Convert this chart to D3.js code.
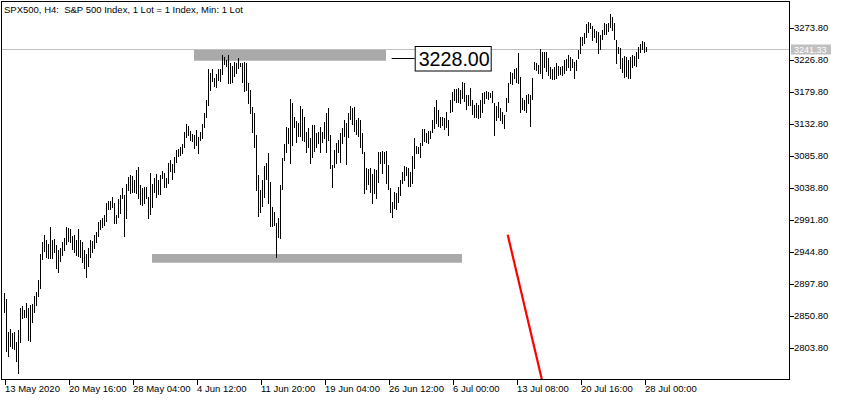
<!DOCTYPE html>
<html><head><meta charset="utf-8">
<script src="https://cdn.jsdelivr.net/npm/d3@7"></script>
<style>
html,body{margin:0;padding:0;background:#fff;}
svg{display:block;}
text{font-family:"Liberation Sans",Arial,sans-serif;}
</style></head><body>
<svg id="chart" width="842" height="400"></svg>
<script>
// ---- data (H4 bars, high / low) ----
const highs = [
2884,2875,2827,2831,2825,2827,2812,2830,2862,2865,
2859,2869,2862,2866,2868,2879,2885,2903,2941,2959,
2969,2962,2956,2981,2962,2963,2954,2947,2950,2959,
2965,2981,2979,2978,2968,2969,2962,2978,2962,2959,
2947,2941,2950,2962,2960,2969,2973,2988,2991,2994,
2998,3016,3019,3019,3025,3016,2998,3022,3028,3038,
3028,3044,3054,3057,3056,3050,3065,3069,3043,3038,
3040,3040,3025,3060,3044,3053,3059,3050,3057,3063,
3060,3053,3075,3079,3073,3084,3094,3095,3098,3103,
3120,3132,3129,3122,3117,3116,3123,3113,3120,3132,
3148,3167,3213,3207,3213,3200,3206,3213,3213,3233,
3231,3226,3233,3222,3217,3223,3222,3229,3222,3222,
3223,3222,3192,3182,3157,3148,3116,3057,3035,3050,
3070,3075,3090,3047,3010,3003,2987,2994,3043,3082,
3103,3128,3126,3169,3163,3142,3137,3134,3159,3154,
3142,3120,3126,3112,3131,3131,3119,3120,3128,3120,
3135,3148,3156,3116,3072,3094,3104,3109,3119,3126,
3138,3134,3148,3159,3156,3157,3138,3141,3138,3119,
3091,3067,3066,3067,3059,3066,3065,3091,3091,3092,
3091,3092,3072,3038,3018,3032,3031,3040,3050,3062,
3070,3069,3067,3062,3085,3112,3100,3098,3104,3125,
3125,3119,3122,3122,3138,3157,3167,3153,3142,3142,
3141,3150,3138,3167,3179,3184,3184,3185,3182,3194,
3192,3175,3175,3185,3167,3160,3163,3160,3167,3178,
3179,3181,3179,3178,3181,3163,3159,3164,3156,3150,
3145,3170,3192,3208,3207,3213,3214,3236,3201,3170,
3167,3175,3176,3175,3200,3223,3222,3219,3242,3238,
3238,3238,3229,3216,3213,3216,3222,3217,3216,3217,
3226,3228,3233,3231,3228,3223,3226,3241,3260,3260,
3266,3279,3282,3280,3276,3272,3269,3267,3263,3270,
3280,3279,3280,3294,3289,3280,3255,3245,3244,3229,
3232,3231,3226,3231,3233,3232,3238,3245,3250,3254,
3253,3245];
const lows = [
2856,2799,2791,2806,2803,2802,2784,2766,2812,2847,
2849,2849,2815,2813,2841,2856,2866,2879,2891,2934,
2946,2937,2935,2935,2935,2944,2921,2915,2931,2940,
2947,2956,2960,2959,2948,2944,2940,2938,2937,2929,
2921,2907,2924,2937,2944,2950,2959,2968,2978,2981,
2984,2990,3007,3007,3010,2987,2987,2996,3001,3023,
2968,2994,3035,3031,3032,3032,3031,3023,3015,3013,
3016,3023,2994,3000,3010,3032,3025,3029,3029,3053,
3040,3040,3045,3063,3051,3062,3076,3085,3087,3090,
3098,3113,3116,3109,3107,3097,3101,3090,3109,3112,
3128,3142,3160,3182,3195,3188,3186,3197,3195,3206,
3220,3217,3192,3192,3194,3203,3207,3214,3217,3194,
3181,3182,3163,3148,3120,3098,3035,2997,3003,3012,
3025,3051,3016,2982,2982,2984,2937,2966,2965,3037,
3079,3091,3104,3075,3101,3128,3106,3114,3114,3109,
3107,3091,3098,3075,3084,3092,3098,3104,3091,3105,
3112,3091,3109,3067,3040,3069,3075,3091,3076,3104,
3114,3073,3113,3139,3132,3122,3117,3114,3098,3090,
3031,3037,3044,3032,3016,3031,3023,3047,3075,3060,
3075,3045,3037,3003,2996,3009,3007,3018,3028,3045,
3050,3057,3041,3041,3045,3067,3090,3090,3084,3101,
3107,3106,3104,3112,3120,3126,3134,3129,3128,3131,
3125,3128,3116,3150,3151,3167,3164,3164,3163,3170,
3166,3154,3160,3160,3147,3142,3142,3141,3142,3150,
3163,3170,3169,3172,3164,3116,3138,3142,3138,3134,
3126,3151,3164,3192,3191,3200,3194,3192,3150,3154,
3153,3150,3163,3129,3169,3213,3211,3207,3207,3200,
3216,3210,3204,3200,3198,3198,3200,3204,3206,3204,
3207,3211,3216,3211,3216,3200,3211,3229,3236,3248,
3251,3260,3267,3273,3255,3260,3253,3236,3242,3257,
3264,3264,3269,3275,3270,3257,3222,3236,3214,3208,
3201,3203,3200,3200,3216,3219,3217,3229,3238,3242,
3238,3240];
const timeTickIndex = [0,32,64,96,128,160,192,224,256,288,320];
const timeTickLabels = ["13 May 2020","20 May 16:00","28 May 04:00","4 Jun 12:00","11 Jun 20:00",
  "19 Jun 04:00","26 Jun 12:00","6 Jul 00:00","13 Jul 08:00","20 Jul 16:00","28 Jul 00:00"];
const priceTicks = [3273.8,3226.8,3179.8,3132.8,3085.8,3038.8,2991.8,2944.8,2897.8,2850.8,2803.8];
const currentPrice = 3241.33;
const labelPrice = 3228.00;
const labelText = "3228.00";
const titleText = "SPX500, H4:  S&P 500 Index, 1 Lot = 1 Index, Min: 1 Lot";
// zones: bar index span and price span
const zoneUpper = [94.75, 190.75, 3240.8, 3225.0];
const zoneLower = [73.75, 228.75, 2941.1, 2928.3];
// trend line: bar index / price of both ends
const trendLine = [251.6, 2969.4, 271.1, 2726.7];
const labelAnchorIndex = 193.6;

// ---- drawing ----
const svg = d3.select("#chart");
const W = 842, H = 400;
const plotL = 1.5, plotR = 789.5, plotT = 1.5, plotB = 379.5;
const N = highs.length;

const x = d3.scaleLinear().domain([0, N - 1]).range([4.5, 4.5 + 2 * (N - 1)]);
const y = d3.scaleLinear().domain([2803.8, 3273.8]).range([347.5, 27.5]);

svg.append("rect").attr("width", W).attr("height", H).attr("fill", "#fff");

svg.append("defs").append("clipPath").attr("id", "plotclip")
  .append("rect").attr("x", plotL).attr("y", plotT)
  .attr("width", plotR - plotL).attr("height", plotB - plotT);

const plot = svg.append("g").attr("clip-path", "url(#plotclip)");

// current price line
const cy = Math.round(y(currentPrice)) - 0.5;
plot.append("line")
  .attr("x1", plotL).attr("x2", plotR)
  .attr("y1", cy).attr("y2", cy)
  .attr("stroke", "#c0c0c0").attr("stroke-width", 1);

// zones
[zoneUpper, zoneLower].forEach(z => {
  plot.append("rect")
    .attr("x", x(z[0])).attr("width", x(z[1]) - x(z[0]))
    .attr("y", y(z[2])).attr("height", y(z[3]) - y(z[2]))
    .attr("fill", "#a9a9a9");
});

// bars
plot.append("g").selectAll("line").data(highs).join("line")
  .attr("x1", (d, i) => x(i)).attr("x2", (d, i) => x(i))
  .attr("y1", d => Math.round(y(d)))
  .attr("y2", (d, i) => Math.round(y(lows[i])) + 1)
  .attr("stroke", "#000").attr("stroke-width", 1)
  .attr("shape-rendering", "crispEdges");

// red trend line
plot.append("line")
  .attr("x1", x(trendLine[0])).attr("y1", y(trendLine[1]))
  .attr("x2", x(trendLine[2])).attr("y2", y(trendLine[3]))
  .attr("stroke", "#ff0000").attr("stroke-width", 2.2);

// price label with connector
const ly = Math.round(y(labelPrice)) - 0.5;
const lx = x(labelAnchorIndex);
plot.append("line").attr("x1", lx).attr("x2", lx + 23).attr("y1", ly).attr("y2", ly)
  .attr("stroke", "#000").attr("stroke-width", 1);
plot.append("rect").attr("x", lx + 23.5).attr("y", ly - 12).attr("width", 76).attr("height", 24.5)
  .attr("fill", "#fff").attr("stroke", "#000").attr("stroke-width", 1);
plot.append("text").attr("x", lx + 27).attr("y", ly + 7.5)
  .attr("font-size", 20).attr("textLength", 71).attr("lengthAdjust", "spacingAndGlyphs")
  .attr("fill", "#000").text(labelText);

// title
svg.append("text").attr("x", 4).attr("y", 13).attr("font-size", 9.5)
  .attr("fill", "#000").style("white-space", "pre").text(titleText);

// frame
svg.append("rect").attr("x", plotL).attr("y", plotT)
  .attr("width", plotR - plotL).attr("height", plotB - plotT)
  .attr("fill", "none").attr("stroke", "#000").attr("stroke-width", 1);

// y axis
const yAxis = d3.axisRight(y).tickValues(priceTicks).tickSize(4).tickPadding(0)
  .tickFormat(d3.format(".2f"));
const gy = svg.append("g").attr("transform", `translate(${plotR},0)`).call(yAxis);
gy.select(".domain").remove();
gy.selectAll(".tick line").attr("stroke", "#000").attr("shape-rendering", "crispEdges");
gy.selectAll(".tick text").attr("font-size", 9.5).attr("font-family", "Liberation Sans, Arial, sans-serif")
  .attr("fill", "#000").attr("x", 4.5);

// current price tag
svg.append("rect").attr("x", plotR + 1.5).attr("y", cy - 5).attr("width", 40).attr("height", 10)
  .attr("fill", "#c0c0c0");
svg.append("text").attr("x", plotR + 4.5).attr("y", cy + 3)
  .attr("font-size", 9).attr("fill", "#fff").text(d3.format(".2f")(currentPrice));

// x axis
const xAxis = d3.axisBottom(x).tickValues(timeTickIndex).tickSize(5).tickPadding(1)
  .tickFormat((d, i) => timeTickLabels[i]);
const gx = svg.append("g").attr("transform", `translate(0,${plotB})`).call(xAxis);
gx.select(".domain").remove();
gx.selectAll(".tick line").attr("stroke", "#000").attr("shape-rendering", "crispEdges");
gx.selectAll(".tick text").attr("font-size", 9.5).attr("font-family", "Liberation Sans, Arial, sans-serif")
  .attr("fill", "#000").attr("text-anchor", "start").attr("x", 0);
</script>
</body></html>
